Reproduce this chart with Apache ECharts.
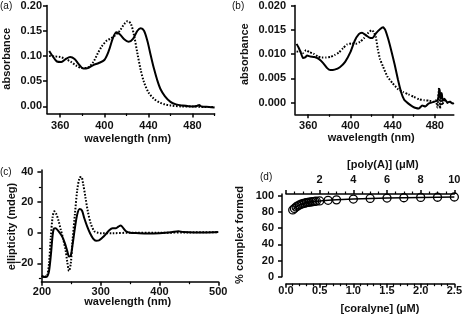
<!DOCTYPE html>
<html><head><meta charset="utf-8">
<script src="https://cdn.jsdelivr.net/npm/echarts@6/dist/echarts.min.js"></script>
<style>html,body{margin:0;padding:0;background:#fff}#c{width:465px;height:315px}</style>
</head><body><div id="c"></div>
<script>
// ---- Panel (a): absorbance spectra ----
const aSolidX = [350,353,357,361,365,369,373,377,381,385,390,395,400,404,408,411,414,418,422,426,430,433,436,439,442,445,448,451,455,460,465,470,480,484,486,488,495,500];
const aSolidY = [0.110,0.100,0.089,0.088,0.094,0.098,0.094,0.083,0.075,0.076,0.082,0.086,0.092,0.110,0.137,0.147,0.143,0.133,0.128,0.134,0.150,0.155,0.150,0.130,0.102,0.075,0.052,0.034,0.020,0.009,0.004,0.002,0.000,0.001,0.003,0.000,-0.001,-0.002];
const aDotX = [350,355,360,365,370,375,380,385,390,394,398,402,406,410,414,418,421,424,427,430,433,436,440,445,450,455,460,470,480,490,500];
const aDotY = [0.100,0.099,0.098,0.094,0.088,0.080,0.076,0.077,0.088,0.105,0.120,0.130,0.135,0.141,0.150,0.163,0.169,0.164,0.140,0.105,0.072,0.048,0.028,0.015,0.008,0.004,0.002,0.000,0.000,-0.001,-0.001];
const aXTicks = [360,400,440,480];
const aXMinor = [380,420,460,500];
const aYTicks = [0,0.05,0.10,0.15,0.20];

// ---- Panel (b): absorbance spectra ----
const bSolidX = [349,351,353,355,357,359,362,366,370,374,378,381,385,390,395,400,404,408,411,414,418,421,424,428,431,433,436,439,442,445,448,451,455,459,462,465,468,471,474,478,481,483,484.5,485.5,486.5,487.5,489,492,494,497];
const bSolidY = [0.0121,0.0113,0.0103,0.0092,0.0093,0.0097,0.0095,0.0094,0.0090,0.0082,0.0071,0.0067,0.0068,0.0073,0.0084,0.0104,0.0127,0.0141,0.0144,0.0140,0.0134,0.0133,0.0142,0.0151,0.0155,0.0150,0.0130,0.0105,0.0078,0.0048,0.0022,0.0006,-0.0002,-0.0008,-0.0011,-0.0012,-0.0006,-0.0008,-0.0002,0.0001,0.0003,0.0006,0.0028,0.0008,0.0020,0.0004,0.0008,0.0000,0.0002,-0.0002];
const bDotX = [349,352,355,358,361,365,369,373,377,381,385,389,393,397,401,405,409,413,417,420,422,424,426,428,431,435,440,445,450,455,460,465,470,475,479,481,482.5,484,485,486,487,489,492,495,498];
const bDotY = [0.0105,0.0106,0.0102,0.0108,0.0104,0.0101,0.0095,0.0093,0.0093,0.0094,0.0098,0.0103,0.0112,0.0120,0.0122,0.0121,0.0125,0.0133,0.0144,0.0149,0.0146,0.0136,0.0110,0.0090,0.0074,0.0054,0.0040,0.0028,0.0022,0.0017,0.0012,0.0007,0.0005,0.0004,0.0002,0.0005,-0.0010,0.0030,-0.0012,0.0020,-0.0005,0.0004,0.0000,0.0002,-0.0003];
const bXTicks = [360,400,440,480];
const bXMinor = [380,420,460];
const bYTicks = [0,0.005,0.010,0.015,0.020];

// ---- Panel (c): CD spectra ----
const cSolidX = [200,203,206,209,212,215,218,220,223,227,231,235,239,243,246,249,252,256,260,264,268,272,277,282,287,292,297,302,308,314,320,326,330,334,338,343,350,360,380,400,420,432,440,460,480,500];
const cSolidY = [-28,-29,-29,-28.5,-25,-15,-2,2.5,3,1.5,-0.5,-3,-7,-12,-15.5,-15,-8,3,12,15.5,14.5,9.5,4,-0.5,-3.8,-5.2,-5,-3.5,-1.2,1.5,3,3,4,4.8,3.2,1,0,-0.2,-0.5,-0.3,0.3,1,0.5,0.2,0.2,0.4];
const cDotX = [200,203,206,209,212,215,218,221,224,228,232,236,240,243,246,249,252,256,260,264,267,270,274,278,283,289,295,300,320,350,400,450,500];
const cDotY = [-28,-29,-28.5,-28,-20,-3,10,14,12.5,8,2,-4,-11,-19,-25,-20,-5,12,28,36,36.5,32,23,14,6,1,0,-0.3,-0.3,0,0,0.2,0.4];
const cXTicks = [200,300,400,500];
const cXMinor = [250,350,450];
const cYTicks = [-20,0,20,40];
const cYMinor = [-30,-10,10,30];

// ---- Panel (d): % complex formed ----
const dCoralyne = [0.1,0.125,0.15,0.175,0.2,0.225,0.25,0.275,0.3,0.325,0.35,0.375,0.4,0.425,0.45,0.5,0.625,0.75,1.0,1.25,1.5,1.75,2.0,2.25,2.5];
const dPercent = [82.3,84.2,86.0,87.4,88.5,89.4,90.1,90.7,91.2,91.6,92.0,92.3,92.6,92.9,93.1,93.4,94.2,94.8,95.8,96.5,97.0,97.4,97.8,98.0,98.3];
const dYTicks = [0,20,40,60,80,100];

const zip = (xs, ys) => xs.map((x, i) => [x, ys[i]]);
const FONT = "'Liberation Sans', Arial, sans-serif";
const BLACK = '#000';
const lbl = (extra) => Object.assign({color: '#111', fontFamily: FONT, fontWeight: 'bold', fontSize: 11}, extra);

function majorX(grid, min, max, ticks, margin, fmt) {
  return {gridIndex: grid, type: 'value', min, max, position: 'bottom',
    axisLine: {show: true, onZero: false, lineStyle: {color: BLACK, width: 1.5}},
    axisTick: {show: true, length: 4, customValues: ticks, lineStyle: {color: BLACK, width: 1.5}},
    axisLabel: lbl({customValues: ticks, margin, formatter: fmt || (v => String(v))}),
    splitLine: {show: false}};
}
function minorX(grid, min, max, ticks) {
  return {gridIndex: grid, type: 'value', min, max, position: 'bottom',
    axisLine: {show: false, onZero: false},
    axisTick: {show: true, length: 2.5, customValues: ticks, lineStyle: {color: BLACK, width: 1.2}},
    axisLabel: {show: false}, splitLine: {show: false}};
}
function majorY(grid, min, max, ticks, margin, fmt) {
  return {gridIndex: grid, type: 'value', min, max, position: 'left',
    axisLine: {show: true, onZero: false, lineStyle: {color: BLACK, width: 1.5}},
    axisTick: {show: true, length: 4, customValues: ticks, lineStyle: {color: BLACK, width: 1.5}},
    axisLabel: lbl({customValues: ticks, margin, formatter: fmt}),
    splitLine: {show: false}};
}
function minorY(grid, min, max, ticks) {
  return {gridIndex: grid, type: 'value', min, max, position: 'left',
    axisLine: {show: false, onZero: false},
    axisTick: {show: true, length: 2.5, customValues: ticks, lineStyle: {color: BLACK, width: 1.2}},
    axisLabel: {show: false}, splitLine: {show: false}};
}

const xAxis = [
  majorX(0, 348, 500, aXTicks, 7),
  minorX(0, 348, 500, aXMinor),
  majorX(1, 347.5, 498, bXTicks, 6),
  minorX(1, 347.5, 498, bXMinor),
  majorX(2, 199, 500, cXTicks, 5),
  minorX(2, 199, 500, cXMinor),
  {gridIndex: 3, type: 'value', min: 0, max: 2.5, interval: 0.5, position: 'bottom', offset: 7,
    axisLine: {show: true, onZero: false, lineStyle: {color: BLACK, width: 1.5}},
    axisTick: {show: true, length: 4, lineStyle: {color: BLACK, width: 1.5}},
    minorTick: {show: true, splitNumber: 5, length: 2.5, lineStyle: {color: BLACK, width: 1.2}},
    axisLabel: lbl({margin: 2, formatter: v => v.toFixed(1)}),
    splitLine: {show: false}, minorSplitLine: {show: false}},
  {gridIndex: 3, type: 'value', min: 0, max: 10, interval: 2, position: 'top',
    axisLine: {show: true, onZero: false, lineStyle: {color: BLACK, width: 1.5}},
    axisTick: {show: true, length: 4, lineStyle: {color: BLACK, width: 1.5}},
    minorTick: {show: true, splitNumber: 4, length: 2.5, lineStyle: {color: BLACK, width: 1.2}},
    axisLabel: lbl({margin: 9, showMinLabel: false}),
    splitLine: {show: false}, minorSplitLine: {show: false}}
];
const yAxis = [
  majorY(0, -0.014, 0.2, aYTicks, 5, v => v.toFixed(2)),
  majorY(1, -0.0024, 0.02, bYTicks, 9, v => v.toFixed(3)),
  majorY(2, -32, 41, cYTicks, 8, v => String(v).replace('-', '\u2212')),
  minorY(2, -32, 41, cYMinor),
  Object.assign(majorY(3, 0, 102, dYTicks, 8, v => String(v)), {offset: 4})
];

const grid = [
  {left: 47, top: 5, width: 167.6, height: 108.5},
  {left: 295, top: 5, width: 158.8, height: 109.3},
  {left: 41.4, top: 170, width: 176.9, height: 111.7},
  {left: 286, top: 194, width: 172.3, height: 82.7}
];

const solidStyle = {color: BLACK, width: 2};
const dotStyle = {color: BLACK, width: 2, type: [1.6, 1.6]};
const spec = (xi, yi, data, style, smooth) => ({type: 'line', xAxisIndex: xi, yAxisIndex: yi, data,
  showSymbol: false, symbol: 'none', smooth, clip: false, lineStyle: style, z: 3, silent: true});

const series = [
  spec(0, 0, zip(aDotX, aDotY), dotStyle, 0.3),
  spec(0, 0, zip(aSolidX, aSolidY), solidStyle, 0.3),
  spec(2, 1, zip(bDotX, bDotY), dotStyle, 0.15),
  spec(2, 1, zip(bSolidX, bSolidY), solidStyle, 0.15),
  spec(4, 2, zip(cDotX, cDotY), dotStyle, 0.3),
  spec(4, 2, zip(cSolidX, cSolidY), solidStyle, 0.3),
  {type: 'line', xAxisIndex: 6, yAxisIndex: 4, data: zip(dCoralyne, dPercent),
    symbol: 'circle', symbolSize: 8, showSymbol: true,
    itemStyle: {color: 'rgba(255,255,255,0)', borderColor: BLACK, borderWidth: 1.3},
    lineStyle: {color: BLACK, width: 1.5}, z: 3, silent: true}
];

const T = (text, x, y, opts) => Object.assign({type: 'text', x, y, style: Object.assign({
  text, fill: '#111', font: 'bold 11px ' + FONT, textAlign: 'center', textVerticalAlign: 'middle'}, opts || {})});
const R = (text, x, y) => ({type: 'text', x, y, rotation: Math.PI / 2, style: {
  text, fill: '#111', font: 'bold 11px ' + FONT, textAlign: 'center', textVerticalAlign: 'middle'}});

const graphic = [
  T('(a)', 0, 6, {font: '10px ' + FONT, textAlign: 'left'}),
  T('(b)', 232, 6, {font: '10px ' + FONT, textAlign: 'left'}),
  T('(c)', 0, 172, {font: '10px ' + FONT, textAlign: 'left'}),
  T('(d)', 260, 177.5, {font: '10px ' + FONT, textAlign: 'left'}),
  R('absorbance', 6.7, 58.8),
  T('wavelength (nm)', 127.7, 138.7),
  R('absorbance', 245.3, 54.2),
  T('wavelength (nm)', 371.2, 138.3),
  R('ellipticity (mdeg)', 11.7, 226.5),
  T('wavelength (nm)', 127.7, 301.5),
  R('% complex formed', 240.3, 235),
  T('[poly(A)] (\u03bcM)', 382.8, 165),
  T('[coralyne] (\u03bcM)', 380, 309)
];

const chart = echarts.init(document.getElementById('c'), null, {renderer: 'canvas'});
chart.setOption({animation: false, backgroundColor: '#fff', grid, xAxis, yAxis, series, graphic});
</script></body></html>
